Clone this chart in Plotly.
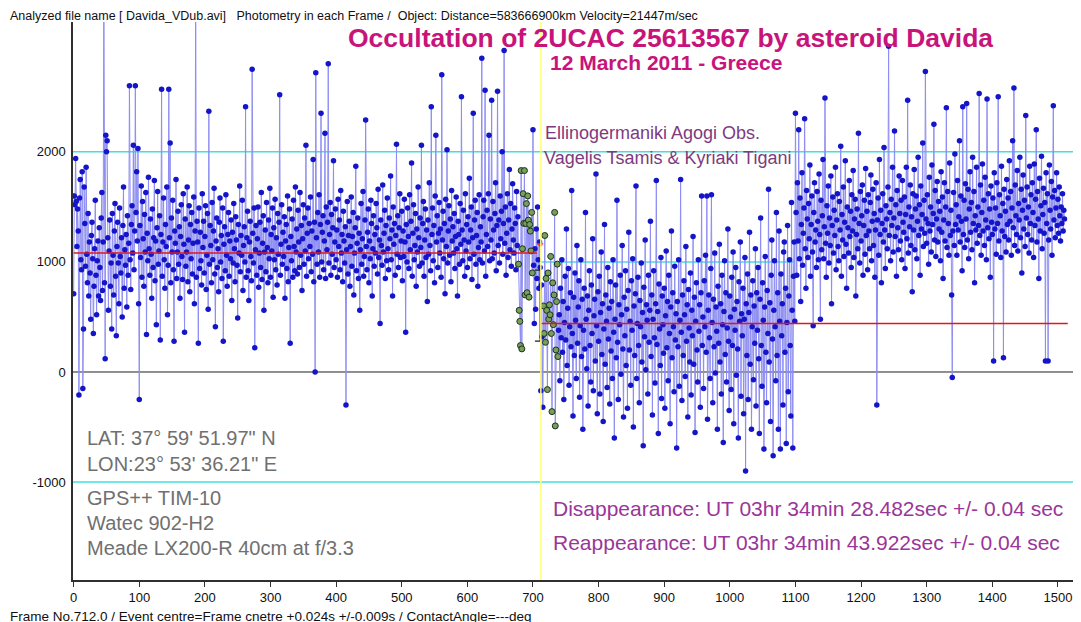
import plotly.graph_objects as go

# ---------------- data (per frame) ----------------
flux_pre = [
    710,1600,1520,1940,1550,1140,1480,1280,-210,1580,1750,1020,930,1820,-150,390,1680,1350,960,1860,
    1070,810,1440,690,1180,900,480,1240,1360,1030,350,780,1120,1560,880,520,1010,1190,690,1310,
    950,650,1400,1630,740,1180,3600,810,120,2150,2000,2100,1220,560,1100,1380,780,990,390,1440,
    1060,700,1280,1530,870,330,1140,1360,990,620,1490,1050,900,1220,500,1330,1680,760,1110,970,
    1250,590,1420,880,1170,2600,1020,750,1340,1510,1080,2060,930,1280,2600,1450,1820,1190,2030,620,
    -250,1330,1040,1690,860,1550,1210,780,1430,1090,1630,340,1260,1010,1770,1120,880,1390,1070,670,
    1480,950,1220,1740,830,1190,430,1310,1640,980,1100,1420,290,1250,2570,870,1180,1580,1020,760,
    1340,1140,1680,520,970,2570,1220,2080,810,1400,1090,1560,930,280,1280,1170,1750,850,1090,1460,
    980,1320,670,1230,1520,1050,840,1620,1160,360,1390,960,1090,1680,820,1200,1510,730,1340,1030,
    1450,890,1170,1590,620,1280,3500,860,1370,1180,260,1490,940,1270,1010,790,1620,1130,1370,900,
    1230,1510,750,1060,1440,570,2370,980,1330,1150,810,1540,1020,1280,1670,890,410,1190,1400,950,
    1120,730,1360,1580,1000,1240,850,1490,280,1160,1320,920,1610,1060,780,1250,1450,870,1190,1030,
    1380,650,1270,990,1530,1120,820,1410,1200,970,490,1340,1080,1690,910,1240,1060,1560,740,1150,
    1320,1000,2410,860,1220,1460,920,650,1180,1370,1050,830,2750,1260,990,1490,220,1110,1330,880,
    1210,1500,770,1080,1360,950,1630,840,1170,1420,560,1090,1290,910,1540,1130,810,1380,1030,1670,
    860,1250,1100,1490,680,1310,1020,1570,930,1220,790,1440,1070,1360,2520,880,1160,1520,980,1270,
    1050,1410,670,1190,1340,940,1600,820,1130,1480,260,1230,1010,1390,860,1560,1140,920,1680,1090,
    1300,890,1470,1180,950,1630,1060,1330,740,1210,1520,980,1400,1100,2060,870,1260,1490,1030,1350,
    1140,1590,910,1280,1070,1930,820,1360,0,2720,1220,980,1450,1090,1610,860,1340,2350,1000,1270,
    1420,930,1190,2170,850,1500,1110,1360,2800,990,1250,1540,880,1430,1070,1310,1920,950,1180,1480,
    1020,1290,860,1570,1140,1380,930,1650,1080,1250,820,1460,1190,990,1320,-300,1110,1550,890,1240,
    1370,780,1140,1590,960,1230,1450,700,1080,1310,1870,920,1170,1400,850,1260,560,1110,1530,980,
    1210,1640,870,1050,1380,2290,1140,930,1270,1480,810,1190,1030,1560,1350,690,1120,1420,960,1250,
    1080,1530,1310,890,1660,1040,1200,440,1380,1150,970,1700,1090,1260,1470,850,1330,1010,1580,1120,
    930,1400,1210,1780,1020,1290,690,1500,1160,1350,880,1240,2070,1070,1420,950,1310,1620,1040,1190,
    1460,830,1280,1050,1570,1180,360,1340,1000,1490,1230,940,1610,1110,1370,1900,870,1260,1520,1020,
    1150,1440,780,1300,1090,1680,1220,960,1400,1130,2060,990,1350,1550,870,1200,1480,1040,1290,640,
    1380,1070,1720,1150,920,2410,1250,1490,1010,1330,810,1600,2150,1180,1420,950,1260,1540,1080,1300,
    860,2700,1200,1460,1030,1350,710,1570,1140,2020,990,1280,1510,1060,1390,820,1650,1190,1320,1080,
    1440,940,1230,1590,1120,690,1370,1250,980,1530,1160,2500,1290,1010,1470,1200,870,1620,1100,1340,
    950,1410,1180,1760,1030,1290,1500,840,1220,2350,1070,1380,1560,980,1240,1450,780,1130,1610,1020,
    1320,1180,2850,990,1410,1560,1100,2560,870,1250,1470,1140,1620,2150,1010,1390,1200,2470,1030,1550,
    1290,1080,1440,1720,920,1330,2550,1150,1380,990,1600,1210,1460,2000,1070,1350,2920,1170,1500,880,
    1260,1620,1040,1380,1840,1110,1530,960,1300,1710,1200,1080,1490,1350,930,1640,1150,1410,980,560,
    460,240,1830,210,1120,1620,1350,1830,700,1350,1530,720,1600,1380,680,1340,1280,1100,1450,900,
]
flux_event = [
    2200,970,440,1120,570,1300,850,1500,1020,760,1180,950,
    -170,790,320,-320,600,350,1240,270,850,560,-160,900,480,610,520,1050,350,-360,
    810,430,700,1450,-490,200,640,980,140,380,
]
flux_occ = [
    520,-80,760,310,1020,180,640,-250,450,870,290,1300,60,580,940,-120,410,720,230,1650,
    350,-400,680,150,900,470,-60,1150,260,590,830,-230,420,1020,140,660,-520,380,760,210,
    1450,480,30,690,-310,560,920,240,-90,790,350,1210,-170,510,660,100,1800,420,-380,730,
    280,870,-200,540,1090,160,620,-450,390,1340,70,700,460,-140,950,300,580,-290,820,190,
    640,-60,1020,360,-600,480,790,130,1560,270,-250,610,430,880,-20,520,1150,210,-410,680,
    330,920,60,570,-330,740,1270,200,460,-120,830,380,1030,-500,600,150,710,1690,-60,440,
    860,240,-280,650,410,990,90,540,-670,770,320,1200,20,610,470,-200,880,270,560,1370,
    140,700,-390,480,920,310,-100,620,1740,250,550,-560,800,390,60,1040,-240,690,430,170,
    760,-330,510,1100,220,640,-80,880,350,-470,590,1280,130,720,410,-180,960,290,530,-690,
    640,230,1020,-130,470,1750,360,-260,700,150,830,520,-40,1140,280,610,-410,750,400,90,
    900,-210,560,330,1230,70,680,-550,460,810,200,-90,1020,370,610,-320,720,1600,240,500,
    -150,830,410,1060,180,1600,-430,560,700,310,-60,940,1610,450,-280,660,230,1080,-10,590,
    370,-520,780,260,1160,90,620,-200,880,430,-640,550,1010,160,720,-90,400,1300,280,-350,
    690,500,-160,860,240,1090,-470,570,380,950,-30,640,210,-600,820,460,1180,-220,530,330,
    760,-380,480,1040,-900,620,150,890,-250,540,1270,70,700,-520,410,830,-70,600,260,1120,
    -310,720,380,950,120,-560,660,1400,240,-130,810,470,-700,590,1050,180,-280,740,350,1660,
    90,630,-450,880,1200,300,-760,560,1010,410,-80,1450,150,720,-520,1280,460,-700,890,330,
    620,-300,1090,1180,180,760,-650,450,1330,-180,690,1020,240,-400,1540,560,-690,870,1180,460,
]
flux_post = [
    2350,1450,880,1720,1190,2200,1030,1580,640,1340,1810,970,1260,1490,2300,1120,760,1650,1390,1040,
    1530,1210,1880,870,1340,1600,1090,420,1450,1720,1180,1290,950,1640,1370,1020,1800,1250,480,1560,
    1110,1420,1930,1030,1320,2490,1170,860,1510,1260,1690,990,1400,1150,1780,620,1330,1590,1080,1470,
    1240,1860,930,1380,1620,1140,1010,1550,1290,2050,870,1430,1200,1680,1050,1360,1920,1160,760,1500,
    1310,1080,1740,1230,1460,950,1610,1280,1830,1040,1390,1570,690,1250,1480,1120,2170,1350,990,1640,
    1190,1420,1700,880,1330,1560,1070,1850,1240,1460,930,1610,1280,1120,1540,1790,1010,1370,1660,1150,
    1440,860,1290,1720,-300,1380,1580,1060,1930,1250,1470,810,1350,1620,1180,2040,1290,940,1510,1390,
    1120,1680,2960,1240,1450,1010,1570,1330,1860,1090,1400,2190,1230,1520,870,1650,1310,1110,1780,1440,
    1190,1560,1020,1740,1360,1270,1590,940,1430,1860,1210,2470,1080,1500,1320,1700,1150,1410,730,1620,
    1290,1840,1110,1480,1600,1030,1370,1950,1240,1520,880,1690,1300,1430,2080,1140,1560,1260,2730,1390,
    1170,1610,1350,980,1770,1280,1500,1090,1880,1340,1440,2250,1200,1650,1050,1390,1730,1180,1550,1300,
    1460,1010,1820,1270,1590,850,1380,1720,1190,1500,2400,1130,1640,1350,1060,1900,1240,1470,700,-50,
    1280,1630,1150,1980,1340,1520,1060,1740,1290,1410,2100,1180,1600,1370,920,2410,1250,1560,1130,1710,
    1390,2440,1200,1660,1030,1480,1820,1270,1540,1110,1950,1350,1640,810,1420,1290,1860,1170,1500,1330,
    2530,1240,1700,1060,1450,1890,1280,1560,1150,1770,1380,1020,2480,1310,1620,1210,1480,860,1690,1360,
    1250,1580,100,1810,1300,1490,1070,1720,1350,2500,1190,1610,1420,1040,1870,1280,1530,130,1660,1230,
    1460,1090,1750,1340,1580,1200,1920,1370,1640,1060,1490,2100,1310,2580,1150,1700,1420,1250,1830,1100,
    1530,1380,1950,1220,1660,900,1470,1790,1300,1560,1140,2330,1400,1680,1250,1500,1080,1870,1350,1610,
    1200,1720,1450,1040,1890,1330,1570,2200,1180,1640,1390,850,1760,1280,1510,1960,1120,1430,1670,1260,
    1540,100,1810,1350,1620,100,1200,1880,1470,1300,1730,1060,1590,2420,1380,1650,1220,1490,1810,1330,
    1570,1260,1680,1420,1190,1500,1350,1620,1280,1470,1390,
]

flux = flux_pre + flux_event + flux_occ + flux_post
frames = list(range(len(flux)))

green_windows = [(678, 699), (716, 738)]   # frames used for the edge fits
event_frame = 712
reappear_frame = 1098
level_before = 1080
level_during = 440
fit_before_end = 706
fit_after_start = 712
fit_after_end = 1515
bar_top = 925
bar_bottom = 280
bar_marker = 1155
cyan_full = [2000, -1000]
cyan_occ = 1000

x_ticks = list(range(0, 1501, 100))
y_ticks = [-1000, 0, 1000, 2000]
x_range = [-1, 1523]
y_range = [-1890, 3180]

# ---------------- figure ----------------
W, H = 1081, 622
L, R, T, B = 65, 1065, 14, 572

def px(x):
    return (x - L) / (R - L)

def py(y):
    return (B - y) / (B - T)

is_green = [any(a <= f <= b for a, b in green_windows) for f in frames]
bx = [f for f, g in zip(frames, is_green) if not g]
by = [v for v, g in zip(flux, is_green) if not g]
gx = [f for f, g in zip(frames, is_green) if g]
gy = [v for v, g in zip(flux, is_green) if g]

fig = go.Figure()
fig.add_trace(go.Scatter(x=frames, y=flux, mode="lines",
                         line=dict(color="#8e8ef2", width=1), hoverinfo="skip"))
fig.add_trace(go.Scatter(x=bx, y=by, mode="markers",
                         marker=dict(color="#1414c8", size=5.5, line=dict(width=0))))
fig.add_trace(go.Scatter(x=gx, y=gy, mode="markers",
                         marker=dict(color="#74a05a", size=6, line=dict(color="#203020", width=1))))
fig.add_trace(go.Scatter(x=[0, fit_before_end], y=[level_before, level_before], mode="lines",
                         line=dict(color="#e01818", width=1.5)))
fig.add_trace(go.Scatter(x=[fit_after_start, fit_after_end], y=[level_during, level_during], mode="lines",
                         line=dict(color="#e01818", width=1.5)))
fig.add_trace(go.Scatter(x=[event_frame - 9, event_frame - 1, event_frame - 1, event_frame - 9],
                         y=[bar_top, bar_top, bar_bottom, bar_bottom], mode="lines",
                         line=dict(color="#202020", width=1.2)))
fig.add_trace(go.Scatter(x=[event_frame - 1], y=[bar_marker], mode="markers",
                         marker=dict(color="#ff3010", size=6, symbol="triangle-down")))

shapes = []
for yv in cyan_full:
    shapes.append(dict(type="line", xref="paper", x0=0, x1=1, yref="y", y0=yv, y1=yv,
                       line=dict(color="#40e0e0", width=1.5), layer="below"))
shapes.append(dict(type="line", xref="x", x0=event_frame, x1=reappear_frame, yref="y",
                   y0=cyan_occ, y1=cyan_occ, line=dict(color="#40e0e0", width=1.5), layer="below"))
shapes.append(dict(type="line", xref="paper", x0=0, x1=1, yref="y", y0=0, y1=0,
                   line=dict(color="#202020", width=1), layer="below"))
shapes.append(dict(type="line", xref="x", x0=event_frame, x1=event_frame, yref="paper", y0=0, y1=1,
                   line=dict(color="#ffff78", width=1.5), layer="above"))

font = "Liberation Sans, Arial, sans-serif"
ann = []
def add_text(text, x, y, size, color, anchor="left", bold=False, yanchor="middle", pad=1):
    t = f"<b>{text}</b>" if bold else text
    ann.append(dict(text=t, x=px(x), y=py(y), xref="paper", yref="paper", showarrow=False,
                    xanchor=anchor, yanchor=yanchor, borderpad=pad,
                    font=dict(family=font, size=size, color=color)))

add_text("Analyzed file name [ Davida_VDub.avi]   Photometry in each Frame /  Object: Distance=583666900km Velocity=21447m/sec",
         1, 0, 12.5, "#101010", yanchor="top", pad=0)
add_text("Frame No.712.0 / Event centre=Frame cnetre +0.024s +/-0.009s / ContactAngle=---deg",
         1, 608, 13.5, "#101010", pad=0)
add_text("Occultation of 2UCAC 25613567 by asteroid Davida", 662, 30, 26.5, "#c8147a", "center", True)
add_text("12 March 2011 - Greece", 658, 55, 21, "#c8147a", "center", True)
add_text("Ellinogermaniki Agogi Obs.", 535, 125, 18, "#7e3a7e")
add_text("Vagelis Tsamis &amp; Kyriaki Tigani", 534, 150, 18, "#7e3a7e")
gray = "#707070"
add_text("LAT: 37° 59' 51.97\" N", 77, 430, 20, gray)
add_text("LON:23° 53' 36.21\" E", 77, 456, 20, gray)
add_text("GPS++ TIM-10", 77, 490, 20, gray)
add_text("Watec 902-H2", 77, 515, 20, gray)
add_text("Meade LX200-R 40cm at f/3.3", 77, 540, 20, gray)
purple = "#9a359a"
add_text("Disappearance: UT 03hr 34min 28.482sec +/- 0.04 sec", 543, 500, 21, purple)
add_text("Reappearance: UT 03hr 34min 43.922sec +/- 0.04 sec", 543, 534, 21, purple)

fig.update_layout(
    width=W, height=H,
    margin=dict(l=L, r=W - R, t=T, b=H - B, pad=0),
    paper_bgcolor="white", plot_bgcolor="white",
    showlegend=False,
    shapes=shapes, annotations=ann,
    xaxis=dict(range=x_range, tickvals=x_ticks, ticktext=[str(v) for v in x_ticks],
               showgrid=False, zeroline=False, showline=True, linecolor="#303030", linewidth=1.5,
               ticks="outside", ticklen=5, tickcolor="#303030", tickwidth=1,
               tickfont=dict(family=font, size=13, color="#101010")),
    yaxis=dict(range=y_range, tickvals=y_ticks, ticktext=[str(v) for v in y_ticks],
               showgrid=False, zeroline=False, showline=True, linecolor="#303030", linewidth=1.5,
               ticks="", ticklabelstandoff=3,
               tickfont=dict(family=font, size=13, color="#101010")),
)

fig.write_html("out.html")
